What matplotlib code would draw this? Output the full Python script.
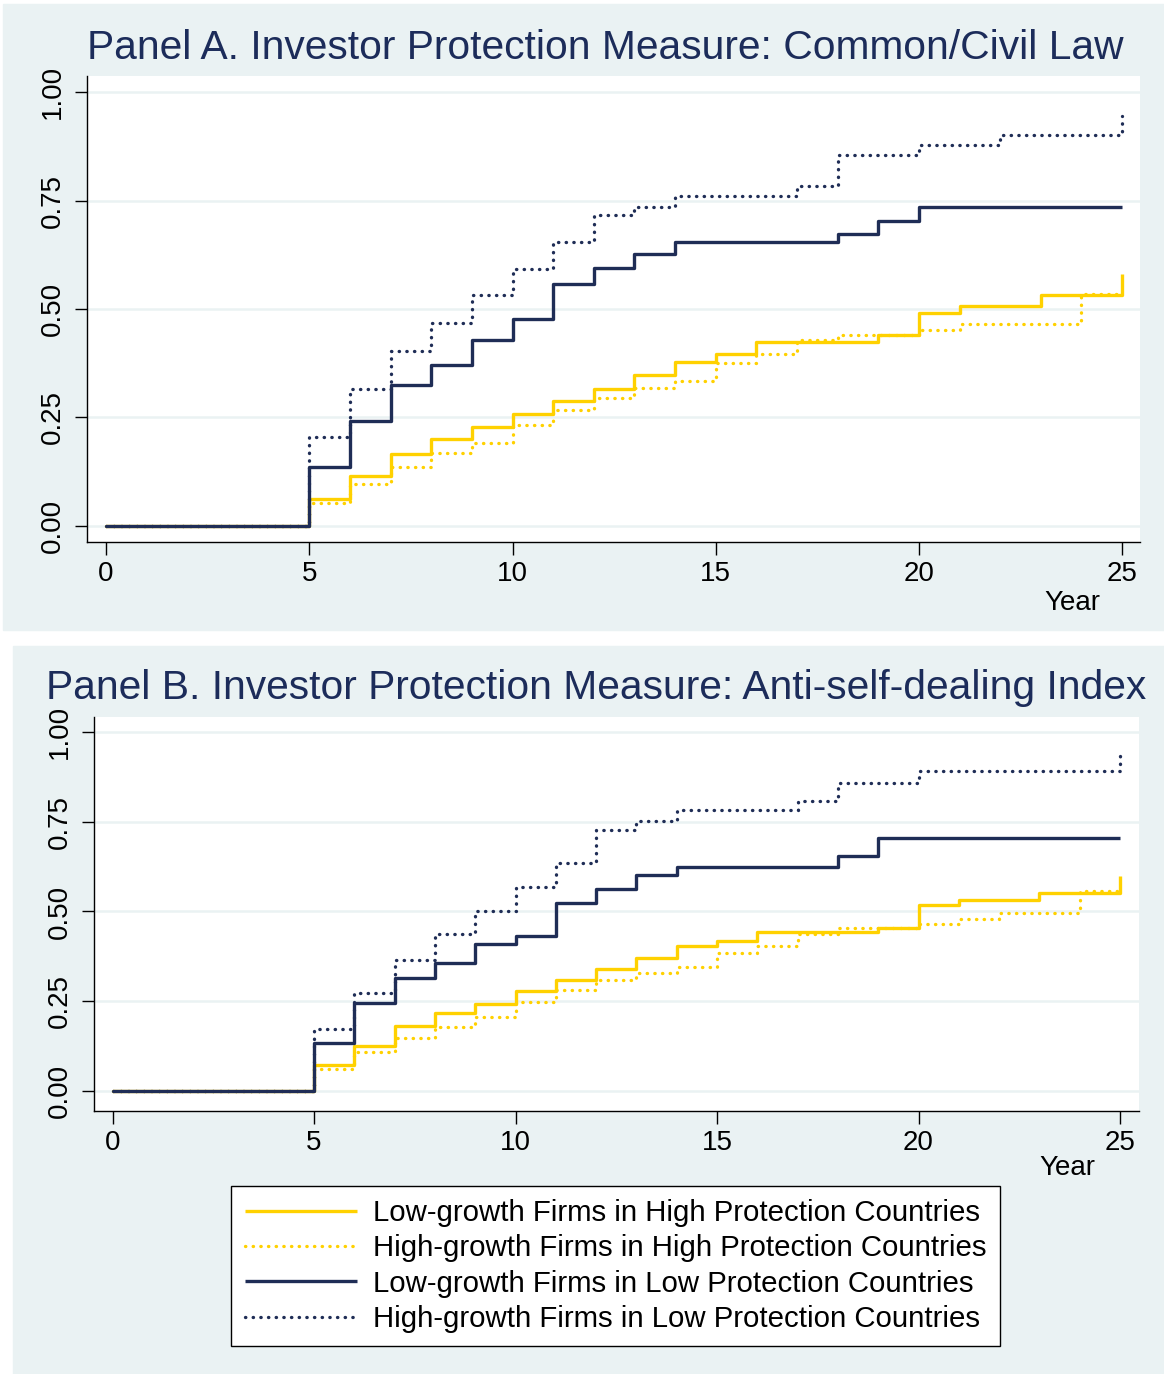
import numpy as np
import matplotlib
matplotlib.use('Agg')
import matplotlib.pyplot as plt
from matplotlib.patches import Rectangle

plt.rcParams['font.family'] = ['Liberation Sans', 'DejaVu Sans']

years = np.arange(0, 26)

# Panel A: Common/Civil law (value from year i onward)
a_lg_hp = [0, 0, 0, 0, 0, 0.062, 0.116, 0.165, 0.200, 0.227, 0.258, 0.289, 0.316, 0.347,
           0.379, 0.396, 0.423, 0.423, 0.423, 0.440, 0.491, 0.508, 0.508, 0.532, 0.532, 0.580]
a_hg_hp = [0, 0, 0, 0, 0, 0.054, 0.096, 0.136, 0.167, 0.192, 0.233, 0.267, 0.296, 0.317,
           0.335, 0.376, 0.396, 0.429, 0.441, 0.441, 0.451, 0.465, 0.465, 0.465, 0.534, 0.534]
a_lg_lp = [0, 0, 0, 0, 0, 0.137, 0.241, 0.325, 0.371, 0.428, 0.477, 0.558, 0.594, 0.627,
           0.655, 0.655, 0.655, 0.655, 0.674, 0.703, 0.736, 0.736, 0.736, 0.736, 0.736, 0.736]
a_hg_lp = [0, 0, 0, 0, 0, 0.205, 0.316, 0.404, 0.468, 0.532, 0.592, 0.654, 0.716, 0.736,
           0.760, 0.760, 0.760, 0.783, 0.856, 0.856, 0.879, 0.879, 0.902, 0.902, 0.902, 0.945]

# Panel B: Anti-self-dealing index
b_lg_hp = [0, 0, 0, 0, 0, 0.071, 0.125, 0.180, 0.216, 0.243, 0.278, 0.310, 0.341, 0.370,
           0.404, 0.419, 0.444, 0.444, 0.444, 0.455, 0.518, 0.532, 0.532, 0.551, 0.551, 0.599]
b_hg_hp = [0, 0, 0, 0, 0, 0.060, 0.108, 0.148, 0.179, 0.205, 0.249, 0.282, 0.309, 0.328,
           0.346, 0.385, 0.404, 0.438, 0.454, 0.454, 0.466, 0.478, 0.496, 0.496, 0.558, 0.558]
b_lg_lp = [0, 0, 0, 0, 0, 0.133, 0.246, 0.316, 0.356, 0.410, 0.432, 0.523, 0.562, 0.603,
           0.625, 0.625, 0.625, 0.625, 0.656, 0.704, 0.704, 0.704, 0.704, 0.704, 0.704, 0.704]
b_hg_lp = [0, 0, 0, 0, 0, 0.172, 0.272, 0.366, 0.437, 0.500, 0.568, 0.636, 0.727, 0.753,
           0.783, 0.783, 0.783, 0.809, 0.858, 0.858, 0.891, 0.891, 0.891, 0.891, 0.891, 0.943]

labels = ['Low-growth Firms in High Protection Countries',
          'High-growth Firms in High Protection Countries',
          'Low-growth Firms in Low Protection Countries',
          'High-growth Firms in Low Protection Countries']

yticks = [0, 0.25, 0.5, 0.75, 1.0]
ytick_labels = ['0.00', '0.25', '0.50', '0.75', '1.00']
xticks = [0, 5, 10, 15, 20, 25]

bg = '#eaf2f3'
gold = '#ffd100'
navy = '#1f2d56'
title_col = '#1c2c5a'
dotted = (0, (0.1, 2.2))

W, H = 1164, 1374
fig = plt.figure(figsize=(W / 100, H / 100), dpi=100)

# panel backgrounds (pixel boxes -> figure fraction)
fig.patches.append(Rectangle((3 / W, 1 - 630 / H), (W - 3) / W, (630 - 4) / H,
                             transform=fig.transFigure, color=bg, zorder=-5))
fig.patches.append(Rectangle((13 / W, 0), (W - 13) / W, (H - 646) / H,
                             transform=fig.transFigure, color=bg, zorder=-5))


def panel(rect, series, ylim, xlim, year_xy):
    ax = fig.add_axes(rect)
    ax.set_facecolor('white')
    styles = [(gold, '-'), (gold, dotted), (navy, '-'), (navy, dotted)]
    for s, (c, ls), lab in zip(series, styles, labels):
        ax.step(years, s, where='post', color=c, linestyle=ls, linewidth=2.4,
                dash_capstyle='round', solid_capstyle='butt', label=lab)
    ax.set_yticks(yticks)
    ax.set_yticklabels(ytick_labels, rotation=90, va='center')
    ax.set_xticks(xticks)
    ax.set_ylim(*ylim)
    ax.set_xlim(*xlim)
    ax.grid(axis='y', color=bg, linewidth=1.8, zorder=0)
    ax.set_axisbelow(True)
    for sp in ['top', 'right']:
        ax.spines[sp].set_visible(False)
    for sp in ['left', 'bottom']:
        ax.spines[sp].set_linewidth(1.0)
    ax.tick_params(axis='both', labelsize=20, length=9, width=1.0, colors='black')
    ax.tick_params(axis='x', pad=5)
    ax.tick_params(axis='y', pad=6)
    ax.text(year_xy[0], year_xy[1], 'Year', transform=ax.transAxes, ha='right',
            va='center', fontsize=20)
    return ax


axA = panel([87 / W, 1 - 542 / H, (1140 - 87) / W, (542 - 76) / H],
            [a_lg_hp, a_hg_hp, a_lg_lp, a_hg_lp], (-0.037, 1.037), (-0.47, 25.44),
            (0.962, -0.13))
axB = panel([94 / W, 1 - 1110.6 / H, (1139 - 94) / W, (1110.6 - 716.7) / H],
            [b_lg_hp, b_hg_hp, b_lg_lp, b_hg_lp], (-0.055, 1.043), (-0.46, 25.47),
            (0.958, -0.145))

fig.text(605 / W, 1 - 48 / H, 'Panel A. Investor Protection Measure: Common/Civil Law',
         ha='center', va='center', fontsize=29.3, color=title_col)
fig.text(596 / W, 1 - 688 / H, 'Panel B. Investor Protection Measure: Anti-self-dealing Index',
         ha='center', va='center', fontsize=29.3, color=title_col)

handles, labs = axB.get_legend_handles_labels()
leg = fig.legend(handles, labs, loc='center', bbox_to_anchor=(615.5 / W, 1 - 1266 / H),
                 fontsize=21.2, frameon=True, fancybox=False, framealpha=1,
                 handlelength=3.8, handletextpad=0.55, labelspacing=0.25,
                 borderpad=0.45, borderaxespad=0)
leg.get_frame().set_edgecolor('black')
leg.get_frame().set_linewidth(1.0)

fig.savefig('out.png', dpi=100)
